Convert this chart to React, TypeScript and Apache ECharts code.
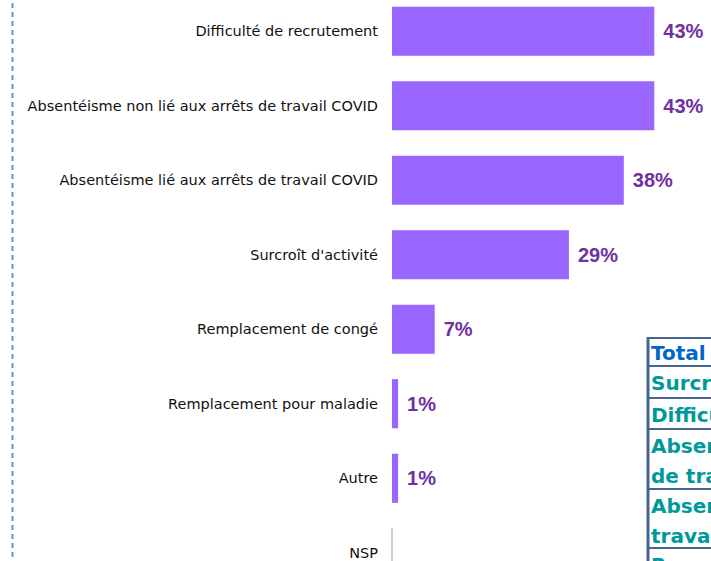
import React, { useEffect, useRef } from "react";
import * as echarts from "echarts";

// Motifs de recours, en % des répondants
const categories = [
  "Difficulté de recrutement",
  "Absentéisme non lié aux arrêts de travail COVID",
  "Absentéisme lié aux arrêts de travail COVID",
  "Surcroît d'activité",
  "Remplacement de congé",
  "Remplacement pour maladie",
  "Autre",
  "NSP",
];
const values = [43, 43, 38, 29, 7, 1, 1, 0];

// Libellés du tableau récapitulatif (une entrée par ligne, une chaîne par ligne de texte)
const tableHeader = "Total";
const tableRows = [
  ["Surcroît d'activité"],
  ["Difficulté de recrutement"],
  ["Absentéisme lié aux arrêts", "de travail COVID"],
  ["Absentéisme non lié aux arrêts de", "travail COVID"],
  ["Remplacement de congé"],
];

const FONT = "'Liberation Sans', Arial, Helvetica, sans-serif";
const LABEL_FONT = "'DejaVu Sans', Verdana, sans-serif";

// The chart container starts slightly above the page so that the first band is partly hidden.
const OFFSET_Y = 6;

function buildTable(): any[] {
  const left = 648;
  const right = 900;
  const top = 338 + OFFSET_Y;
  const border = "#45648F";
  const rowHeights = [28, 32, 31, 60, 59, 40];
  const elements: any[] = [];
  const labels = [[tableHeader], ...tableRows];
  let y = top;
  labels.forEach((lines, i) => {
    elements.push({
      type: "line",
      shape: { x1: left, y1: y, x2: right, y2: y },
      style: { stroke: border, lineWidth: 2 },
    });
    lines.forEach((t, j) => {
      elements.push({
        type: "text",
        x: left + 3,
        y: y + (i === 0 ? 15 : 17) + j * 30,
        style: {
          text: t,
          fill: i === 0 ? "#0066CC" : "#009999",
          font: `bold 20px ${LABEL_FONT}`,
          verticalAlign: "middle",
          align: "left",
        },
      });
    });
    y += rowHeights[i];
  });
  elements.push({
    type: "line",
    shape: { x1: left, y1: top - 1, x2: left, y2: 640 },
    style: { stroke: border, lineWidth: 3 },
  });
  return elements;
}

export default function App() {
  const ref = useRef<HTMLDivElement>(null);

  useEffect(() => {
    if (!ref.current) return;
    const chart = echarts.init(ref.current, undefined, { renderer: "svg" });
    chart.setOption({
      animation: false,
      backgroundColor: "#ffffff",
      grid: { left: 392, top: 0, width: 305, height: 596, containLabel: false },
      xAxis: {
        type: "value",
        min: 0,
        max: 50,
        show: false,
      },
      yAxis: {
        type: "category",
        inverse: true,
        data: categories,
        axisLine: { show: false },
        axisTick: { show: false },
        axisLabel: {
          margin: 14,
          fontSize: 14.5,
          color: "#111111",
          fontFamily: LABEL_FONT,
        },
      },
      series: [
        {
          type: "bar",
          barCategoryGap: "34%",
          data: values.map((v) =>
            v === 0
              ? {
                  value: v,
                  itemStyle: { color: "#9966FF", borderColor: "#BFBFBF", borderWidth: 1 },
                  label: { show: false },
                }
              : { value: v }
          ),
          itemStyle: { color: "#9966FF" },
          label: {
            show: true,
            position: "right",
            distance: 9,
            formatter: "{c}%",
            fontSize: 20,
            fontWeight: "bold",
            color: "#7030A0",
            fontFamily: FONT,
          },
        },
      ],
      graphic: [
        {
          type: "line",
          shape: { x1: 12.5, y1: 0, x2: 12.5, y2: 561 + OFFSET_Y },
          style: { stroke: "#6690DC", lineWidth: 2, lineDash: [5, 4] },
        },
        ...buildTable(),
      ],
    });
    return () => chart.dispose();
  }, []);

  return (
    <div
      ref={ref}
      style={{ position: "fixed", left: 0, top: -OFFSET_Y, width: 711, height: 600, overflow: "hidden" }}
    />
  );
}
